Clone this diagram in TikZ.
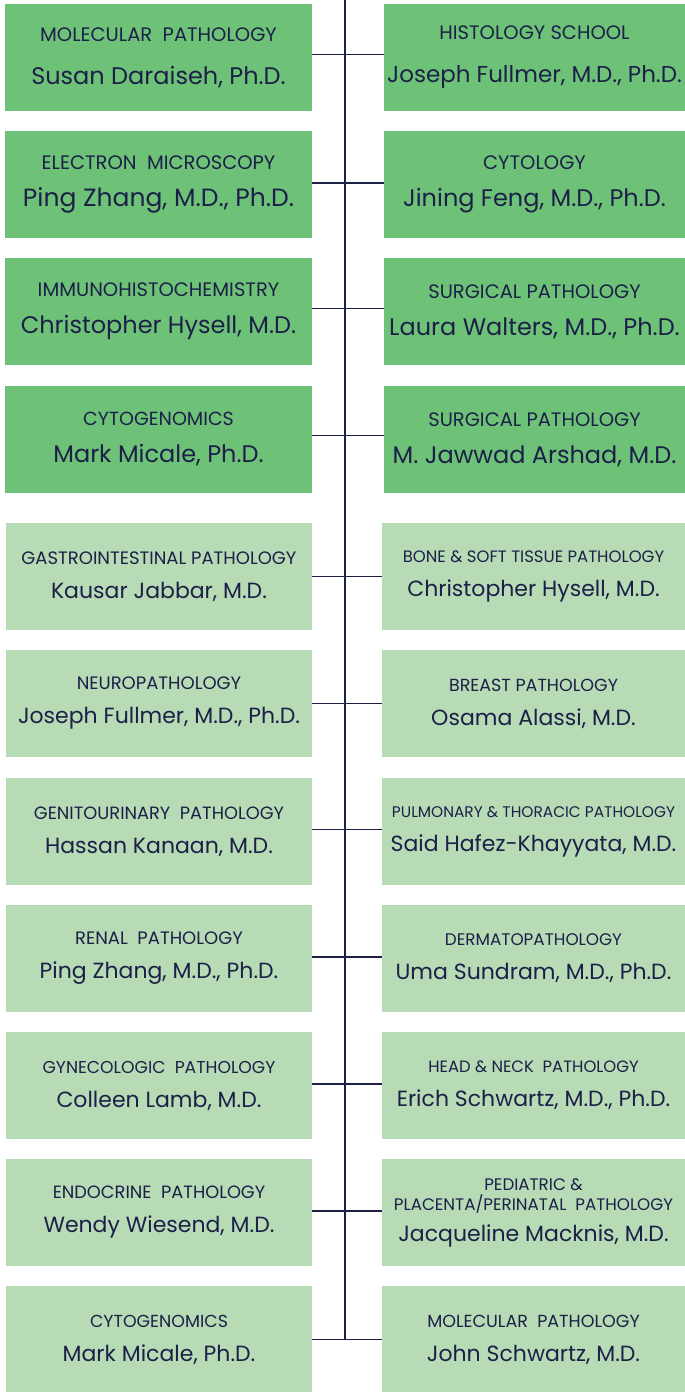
\documentclass[tikz,border=0pt]{standalone}
\usepackage{fontspec}
\setmainfont{Poppins}
\usepackage{tikz}
\usetikzlibrary{positioning}
\definecolor{darkgreen}{RGB}{110,194,120}
\definecolor{lightgreen}{RGB}{182,219,181}
\definecolor{navy}{RGB}{28,32,72}
\newcommand{\dept}[2][17.5]{{\fontsize{#1}{20}\selectfont #2}}
\newcommand{\who}[2][22]{{\fontsize{#1}{26}\selectfont #2}}

\begin{document}
\begin{tikzpicture}[x=1pt,y=-1pt,
  box/.style={rectangle, minimum height=107pt, inner sep=0pt, align=center, text=navy,
    font=\fontsize{22}{28}\selectfont},
  darkleft/.style={box, fill=darkgreen, minimum width=307pt},
  darkright/.style={box, fill=darkgreen, minimum width=301pt},
  lightleft/.style={box, fill=lightgreen, minimum width=306pt},
  lightright/.style={box, fill=lightgreen, minimum width=303pt},
  link/.style={draw=navy, line width=1.4pt}]
  \useasboundingbox (0,0) rectangle (685,1392);

  % dark rows
  \node[darkleft]  (L1) at (158.5,57.5)  {\dept[19.5]{MOLECULAR\ \ PATHOLOGY}\\[15pt]\who[24]{Susan Daraiseh, Ph.D.}};
  \node[darkright] (R1) at (534.5,57.5)  {\dept[19.5]{HISTOLOGY SCHOOL}\\[15pt]\who[23]{Joseph Fullmer, M.D., Ph.D.}};
  \node[darkleft]  (L2) at (158.5,184.5) {\dept[19.5]{ELECTRON\ \ MICROSCOPY}\\[9pt]\who[25]{Ping Zhang, M.D., Ph.D.}};
  \node[darkright] (R2) at (534.5,184.5) {\dept[19.5]{CYTOLOGY}\\[9pt]\who[24]{Jining Feng, M.D., Ph.D.}};
  \node[darkleft]  (L3) at (158.5,311.5) {\dept[19.5]{IMMUNOHISTOCHEMISTRY}\\[9pt]\who[24]{Christopher Hysell, M.D.}};
  \node[darkright] (R3) at (534.5,311.5) {\dept[19.5]{SURGICAL PATHOLOGY}\\[9pt]\who[24]{Laura Walters, M.D., Ph.D.}};
  \node[darkleft]  (L4) at (158.5,439.5) {\dept[19]{CYTOGENOMICS}\\[9pt]\who[24]{Mark Micale, Ph.D.}};
  \node[darkright] (R4) at (534.5,439.5) {\dept[19.5]{SURGICAL PATHOLOGY}\\[9pt]\who[24]{M. Jawwad Arshad, M.D.}};

  % light rows
  \node[lightleft]  (L5) at (159,576.5)   {\dept[18]{GASTROINTESTINAL PATHOLOGY}\\[6pt]\who{Kausar Jabbar, M.D.}};
  \node[lightright] (R5) at (533.5,576.5) {\dept[16.5]{BONE \& SOFT TISSUE PATHOLOGY}\\[6pt]\who{Christopher Hysell, M.D.}};
  \node[lightleft]  (L6) at (159,703.5)   {\dept[18]{NEUROPATHOLOGY}\\[6pt]\who{Joseph Fullmer, M.D., Ph.D.}};
  \node[lightright] (R6) at (533.5,703.5) {\dept[17.5]{BREAST PATHOLOGY}\\[6pt]\who{Osama Alassi, M.D.}};
  \node[lightleft]  (L7) at (159,831.5)   {\dept[17.8]{GENITOURINARY\ \ PATHOLOGY}\\[6pt]\who{Hassan Kanaan, M.D.}};
  \node[lightright] (R7) at (533.5,831.5) {\dept[15.4]{PULMONARY \& THORACIC PATHOLOGY}\\[6pt]\who{Said Hafez-Khayyata, M.D.}};
  \node[lightleft]  (L8) at (159,958.5)   {\dept[18]{RENAL\ \ PATHOLOGY}\\[6pt]\who{Ping Zhang, M.D., Ph.D.}};
  \node[lightright] (R8) at (533.5,958.5) {\dept[16.8]{DERMATOPATHOLOGY}\\[6pt]\who{Uma Sundram, M.D., Ph.D.}};
  \node[lightleft]  (L9) at (159,1085.5)  {\dept[17.2]{GYNECOLOGIC\ \ PATHOLOGY}\\[6pt]\who{Colleen Lamb, M.D.}};
  \node[lightright] (R9) at (533.5,1085.5) {\dept[16.4]{HEAD \& NECK\ \ PATHOLOGY}\\[6pt]\who{Erich Schwartz, M.D., Ph.D.}};
  \node[lightleft]  (L10) at (159,1212.5)  {\dept[17.8]{ENDOCRINE\ \ PATHOLOGY}\\[6pt]\who{Wendy Wiesend, M.D.}};
  \node[lightright] (R10) at (533.5,1212.5) {\dept[16.7]{PEDIATRIC \&}\\[-8pt]\dept[16.7]{PLACENTA/PERINATAL\ \ PATHOLOGY}\\[3pt]\who{Jacqueline Macknis, M.D.}};
  \node[lightleft]  (L11) at (159,1339.5)  {\dept[17.4]{CYTOGENOMICS}\\[6pt]\who{Mark Micale, Ph.D.}};
  \node[lightright] (R11) at (533.5,1339.5) {\dept[17.5]{MOLECULAR\ \ PATHOLOGY}\\[6pt]\who{John Schwartz, M.D.}};

  % spine and branches
  \coordinate (top) at (345,0);
  \coordinate (bottom) at (345,1339.5);
  \draw[link] (top) -- (bottom);
  \draw[link] ([yshift=3pt]L1.east) -- ([yshift=3pt]R1.west);
  \draw[link] ([yshift=1.5pt]L2.east) -- ([yshift=1.5pt]R2.west);
  \draw[link] ([yshift=3pt]L3.east) -- ([yshift=3pt]R3.west);
  \draw[link] ([yshift=4pt]L4.east) -- ([yshift=4pt]R4.west);
  \draw[link] (L5.east) -- (R5.west);
  \draw[link] (L6.east) -- (R6.west);
  \draw[link] ([yshift=2pt]L7.east) -- ([yshift=2pt]R7.west);
  \draw[link] ([yshift=1.5pt]L8.east) -- ([yshift=1.5pt]R8.west);
  \draw[link] ([yshift=1.5pt]L9.east) -- ([yshift=1.5pt]R9.west);
  \draw[link] ([yshift=1.5pt]L10.east) -- ([yshift=1.5pt]R10.west);
  \draw[link] (L11.east) -- (R11.west);
\end{tikzpicture}
\end{document}
